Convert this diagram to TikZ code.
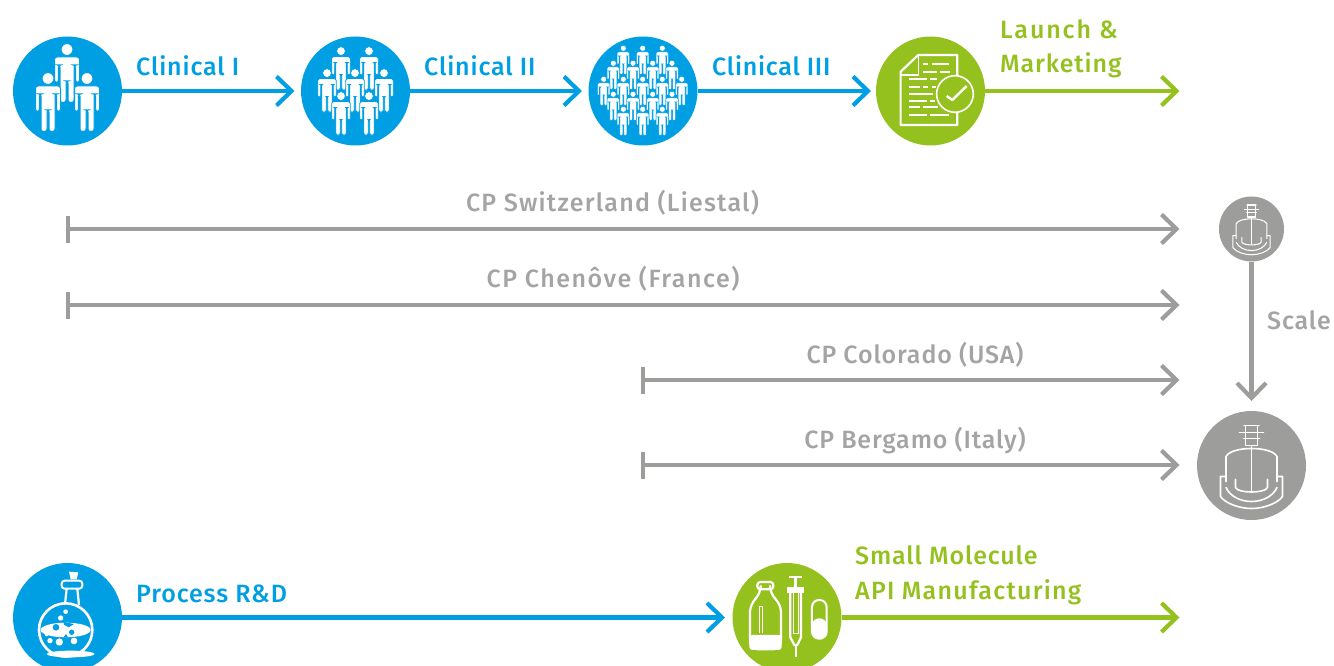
\documentclass[tikz,border=0pt]{standalone}
\usepackage{fontspec}
\setmainfont{Fira Sans}[UprightFont=* Medium,LetterSpace=3.5]
\usetikzlibrary{arrows.meta}
\definecolor{cblue}{HTML}{009FE3}
\definecolor{cgreen}{HTML}{95C11F}
\definecolor{cgray}{HTML}{9D9D9C}
\definecolor{tgray}{HTML}{A4A4A4}
\newcommand{\personat}[4]{% x, y of head top, scale, bg colour
  \begin{scope}[shift={(#1,#2)},x=#3pt,y=-#3pt]
    \fill[white,draw=#4,line width=#3*1pt] (0,5.5) circle (6);
    \path[fill=white,draw=#4,line width=#3*1pt,rounded corners=#3*2.5pt]
      (-12.5,38.5) -- (-12.5,13) -- (12.5,13) -- (12.5,38.5) -- (8.6,38.5) -- (8.6,21) -- (7,21)
      -- (7,58.5) -- (1,58.5) -- (1,37) -- (-1,37) -- (-1,58.5) -- (-7,58.5) -- (-7,21) -- (-8.6,21) -- (-8.6,38.5) -- cycle;
  \end{scope}}
\newcommand{\reactor}[3]{% cx, cy, scale
  \begin{scope}[shift={(#1,#2)},x=#3pt,y=-#3pt,draw=white,line width=#3*1.4pt+.2pt,line cap=round,line join=round]
    \draw (-6,-40) rectangle (6,-20);
    \draw (-7.5,-40) -- (7.5,-40) (-12,-33) -- (12,-33) (-8,-27) -- (8,-27);
    \draw (0,-20) -- (0,26);
    \draw (-25.5,16) -- (-25.5,-9) .. controls (-22,-15) and (-10,-17) .. (0,-17) .. controls (10,-17) and (22,-15) .. (25.5,-9) -- (25.5,16);
    \draw (-16,14) -- (-16,22) .. controls (-14,28) and (14,28) .. (16,22) -- (16,14);
    \draw (-25.5,22) .. controls (-22,30) and (-12,36) .. (0,36) .. controls (12,36) and (22,30) .. (25.5,22);
    \draw (-25.5,11) -- (-31,11) -- (-31,31) .. controls (-26,38) and (-12,43) .. (0,43) .. controls (12,43) and (26,38) .. (31,31) -- (31,11) -- (25.5,11);
  \end{scope}}
\tikzset{
  disc/.style={circle,minimum size=109pt,inner sep=0pt,outer sep=0pt,fill=#1},
  smalldisc/.style={circle,minimum size=65pt,inner sep=0pt,outer sep=0pt,fill=#1},
  conn/.style={draw=#1,line width=4.2pt,-{Straight Barb[length=15pt,width=29pt,line width=4.2pt]}},
  barconn/.style={draw=cgray,line width=4.2pt,{Bar[width=27pt,line width=4.5pt]}-{Straight Barb[length=15pt,width=29pt,line width=4.2pt]}},
  lab/.style={font=\fontsize{25}{25}\selectfont,text=#1,inner sep=0pt,anchor=base west},
  glab/.style={font=\fontsize{25}{25}\selectfont,text=tgray,inner sep=0pt,anchor=base},
  zoomA/.style={shift={(#1)},x=.3333pt,y=-.3333pt},
  ic/.style={draw=white,line join=round},
}
\begin{document}
\begin{tikzpicture}[x=1pt,y=-1pt]
\useasboundingbox (0,0) rectangle (1334,666);
% discs
\node[disc=cblue] (c1) at (67.5,91) {};
\node[disc=cblue] (c2) at (355.5,91) {};
\node[disc=cblue] (c3) at (643,91) {};
\node[disc=cgreen] (c4) at (930.5,91) {};
\node[disc=cblue] (c5) at (67.5,617.5) {};
\node[disc=cgreen] (c6) at (787,617.5) {};
\node[smalldisc=cgray] (r1) at (1251.5,229) {};
\node[disc=cgray] (r2) at (1251.5,465.5) {};
% free ends
\coordinate (e4) at (1179.5,91);
\coordinate (e6) at (1179.5,617.5);
\coordinate (a1) at (65.5,229); \coordinate (b1) at (1179.5,229);
\coordinate (a2) at (65.5,305); \coordinate (b2) at (1179.5,305);
\coordinate (a3) at (640.5,380); \coordinate (b3) at (1179.5,380);
\coordinate (a4) at (640.5,465); \coordinate (b4) at (1179.5,465);
% connectors
\draw[conn=cblue,shorten >=6.5pt] (c1) -- (c2);
\draw[conn=cblue,shorten >=6.5pt] (c2) -- (c3);
\draw[conn=cblue,shorten >=5pt] (c3) -- (c4);
\draw[conn=cgreen] (c4) -- (e4);
\draw[conn=cblue,shorten >=7.5pt] (c5) -- (c6);
\draw[conn=cgreen] (c6) -- (e6);
\draw[barconn] (a1) -- (b1);
\draw[barconn] (a2) -- (b2);
\draw[barconn] (a3) -- (b3);
\draw[barconn] (a4) -- (b4);
\draw[conn=cgray,shorten >=10pt] (r1) -- (r2);
% labels
\node[lab=cblue] (t1) at (136,75.7) {Clinical I};
\node[lab=cblue] (t2) at (424,75.7) {Clinical II};
\node[lab=cblue] (t3) at (712,75.7) {\addfontfeature{LetterSpace=3}Clinical III};
\node[lab=cgreen] (t4) at (1000,38.7) {\addfontfeature{LetterSpace=7.5}Launch \&};
\node[lab=cgreen] (t5) at (1000,72.7) {Marketing};
\node[lab=cblue] (t6) at (136,602) {Process R\&D};
\node[lab=cgreen] (t7) at (855,564) {Small Molecule};
\node[lab=cgreen] (t8) at (855,599) {\addfontfeature{LetterSpace=5}API Manufacturing};
\node[glab] (g1) at (612.5,211.5) {\addfontfeature{LetterSpace=5}CP Switzerland (Liestal)};
\node[glab] (g2) at (613,287) {\addfontfeature{LetterSpace=6}CP Chenôve (France)};
\node[glab] (g3) at (915,363) {CP Colorado (USA)};
\node[glab] (g4) at (915,448) {CP Bergamo (Italy)};
\node[glab,anchor=base west] (g5) at (1267,329) {Scale};
% people
\personat{67}{44}{1}{cblue}
\personat{48}{73}{1}{cblue}
\personat{87}{73}{1}{cblue}
\foreach \x in {341,369} {\personat{\x}{47}{.74}{cblue}}
\foreach \x in {327,355,384} {\personat{\x}{69}{.74}{cblue}}
\foreach \x in {341,369} {\personat{\x}{92}{.74}{cblue}}
\foreach \x in {623.3,642.7,662.3} {\personat{\x}{45.5}{.5}{cblue}}
\foreach \x in {613.3,633,652.7,672} {\personat{\x}{60.5}{.5}{cblue}}
\foreach \x in {603.7,623.3,642.7,662.3,681.7} {\personat{\x}{76.5}{.5}{cblue}}
\foreach \x in {613.3,633,652.7,672} {\personat{\x}{91.5}{.5}{cblue}}
\foreach \x in {623.3,642.7,662.3} {\personat{\x}{106.5}{.5}{cblue}}
% document
\begin{scope}[zoomA={570,20}]
  \draw[ic,line width=2.2pt] (1045,105) -- (1162,105) -- (1162,315) -- (992,315) -- (992,155) -- cycle;
  \draw[ic,line width=1.6pt] (1045,105) -- (1045,165) -- (992,165);
  \draw[ic,line width=1.7pt]
    (1060,132)--(1075,132) (1085,132)--(1138,132)
    (1060,155)--(1100,155) (1110,155)--(1140,155)
    (1018,177)--(1070,177) (1080,177)--(1100,177)
    (1018,200)--(1050,200) (1060,200)--(1073,200) (1085,200)--(1097,200)
    (1018,222)--(1090,222)
    (1018,242)--(1070,242) (1080,242)--(1095,242)
    (1018,262)--(1050,262) (1060,262)--(1105,262)
    (1018,285)--(1070,285) (1080,285)--(1138,285);
  \path[fill=cgreen,draw=white,line width=1.6pt] (1155,222) circle (55);
  \draw[ic,line width=2.4pt] (1130,228) -- (1147,240) -- (1190,198);
\end{scope}
% reactors
\reactor{1251.5}{465.5}{1}
\reactor{1251.5}{229}{.6}
% flask
\begin{scope}[zoomA={0,550}]
  \fill[white] (207,65) -- (235,67) -- (230,88) -- (212,88) -- cycle;
  \draw[ic,line width=2pt,rounded corners=3pt] (185,92) rectangle (247,116);
  \draw[ic,line width=2.2pt] (200,116) -- (195,163) (232,116) -- (237,165);
  \draw[ic,line width=2.6pt] (197,240) circle (80);
  \fill[white] (197,240) ellipse (75 and 22);
  \fill[cblue] (168,232) circle (10) (190,216) -- (222,222) -- (206,232) -- (192,224) -- cycle (190,263) -- (205,263) -- (198,252) -- cycle;
  \fill[cblue] (215,247) circle (8);
  \fill[white] (150,272) circle (8) (178,276) circle (11) (222,273) circle (10) (182,204) circle (8) (197,185) circle (7) (140,253) circle (6);
  \fill[white] (212,312) ellipse (72 and 10);
\end{scope}
% vial, syringe, capsule
\begin{scope}[zoomA={700,550}]
  \draw[ic,line width=2.2pt,rounded corners=3pt] (172,96) rectangle (220,118);
  \draw[ic,line width=2.2pt,rounded corners=8pt] (182,118) -- (182,132) -- (150,162) -- (150,298) -- (243,298) -- (243,162) -- (210,132) -- (210,118);
  \fill[white,rounded corners=3pt] (148,255) rectangle (245,300);
  \draw[ic,line width=1.6pt] (178,250) -- (178,170) -- (188,170) -- (188,250);
  \draw[ic,line width=2.2pt] (267,80) -- (307,80);
  \draw[ic,line width=3pt] (287,80) -- (287,112);
  \fill[white] (262,112) rectangle (312,128);
  \draw[ic,line width=2.2pt] (271,128) -- (271,262) -- (283,285) -- (292,285) -- (303,262) -- (303,128);
  \draw[ic,line width=1.6pt] (280,128) -- (280,250) -- (295,250) -- (295,128);
  \draw[ic,line width=2pt] (287,285) -- (287,320);
  \draw[ic,line width=2pt,rounded corners=7pt] (336,150) rectangle (380,266);
  \fill[white,rounded corners=7pt] (336,205) -- (380,205) -- (380,266) -- (336,266) -- cycle;
\end{scope}
\end{tikzpicture}
\end{document}
